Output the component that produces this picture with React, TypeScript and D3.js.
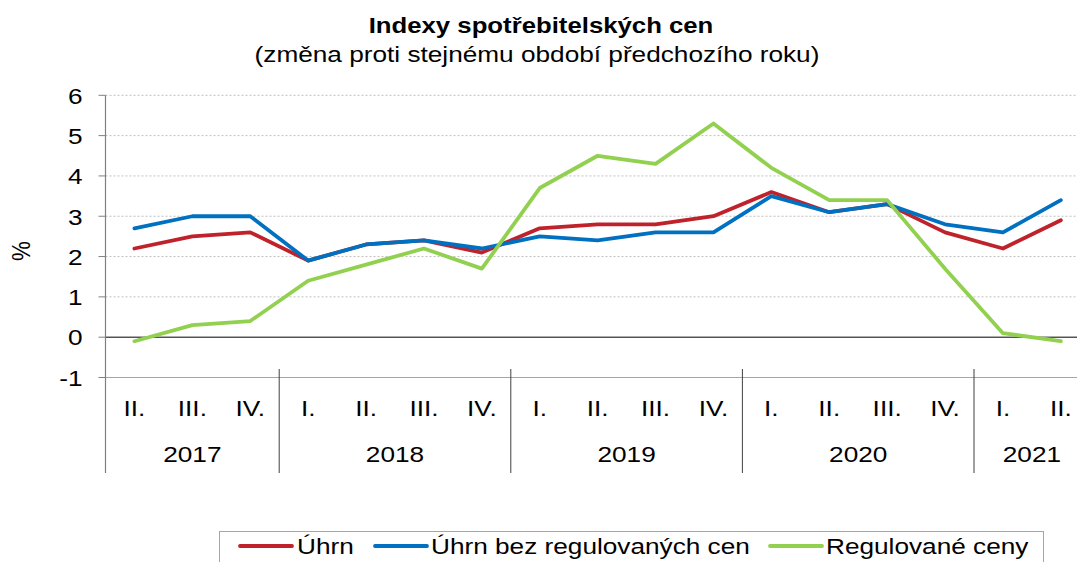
import React from "react";
import * as d3 from "d3";

const quarters = ["II.", "III.", "IV.", "I.", "II.", "III.", "IV.", "I.", "II.", "III.", "IV.", "I.", "II.", "III.", "IV.", "I.", "II."];
const yearLabels = ["2017", "2018", "2019", "2020", "2021"];
const yearCounts = [3, 4, 4, 4, 2];

const uhrn = [2.2, 2.5, 2.6, 1.9, 2.3, 2.4, 2.1, 2.7, 2.8, 2.8, 3.0, 3.6, 3.1, 3.3, 2.6, 2.2, 2.9];
const uhrnBezReg = [2.7, 3.0, 3.0, 1.9, 2.3, 2.4, 2.2, 2.5, 2.4, 2.6, 2.6, 3.5, 3.1, 3.3, 2.8, 2.6, 3.4];
const regulovane = [-0.1, 0.3, 0.4, 1.4, 1.8, 2.2, 1.7, 3.7, 4.5, 4.3, 5.3, 4.2, 3.4, 3.4, 1.7, 0.1, -0.1];

const yTicks = [-1, 0, 1, 2, 3, 4, 5, 6];

const seriesNames = ["Úhrn", "Úhrn bez regulovaných cen", "Regulované ceny"];
const seriesColors = ["#C0222B", "#0070C0", "#92D050"];

const FONT = "'Liberation Sans', Arial, sans-serif";
const SX = 1.17;
const FS = 22.4;

function T(props: any) {
  const { x, y, anchor = "start", size = FS, weight = "normal", children, rotate = 0 } = props;
  const tr = rotate
    ? `translate(${x},${y}) rotate(${rotate}) scale(1,${SX})`
    : `translate(${x},${y}) scale(${SX},1)`;
  return (
    <text transform={tr} textAnchor={anchor} fontSize={size} fontWeight={weight} fontFamily={FONT} fill="#000">
      {children}
    </text>
  );
}

export default function App() {
  const W = 1077, H = 562;
  const left = 105.5;
  const bw = 57.9;
  const idx = quarters.map((_, i) => i);
  const x = d3.scaleBand<number>().domain(idx).range([left, left + bw * quarters.length]).paddingInner(0).paddingOuter(0);
  const cx = (i: number) => (x(i) as number) + x.bandwidth() / 2;
  const y = d3.scaleLinear().domain([-1, 6]).range([377.5, 95.3]);

  const line = d3.line<number>().x((_, i) => cx(i)).y((d) => y(d));
  const series = [uhrn, uhrnBezReg, regulovane];

  const bounds: number[] = [];
  let acc = 0;
  const yearCenters: number[] = [];
  yearCounts.forEach((c) => {
    const start = x(acc) as number;
    acc += c;
    const end = acc < quarters.length ? (x(acc) as number) : left + bw * quarters.length;
    yearCenters.push((start + end) / 2);
    if (acc < quarters.length) bounds.push(end);
  });

  const rightEdge = left + bw * quarters.length;
  const legendItems = [
    { lx: 240, tx: 297 },
    { lx: 375, tx: 431 },
    { lx: 770, tx: 826 },
  ];

  return (
    <svg width={W} height={H} style={{ position: "absolute", left: 0, top: 0, background: "#fff" }}>
      <rect x={0} y={0} width={W} height={H} fill="#fff" />
      <T x={541} y={33} anchor="middle" size={22} weight="bold">Indexy spotřebitelských cen</T>
      <T x={537} y={62} anchor="middle">(změna proti stejnému období předchozího roku)</T>

      {yTicks.filter((t) => t > 0).map((t) => (
        <line key={t} x1={left} x2={rightEdge} y1={y(t)} y2={y(t)} stroke="#BFBFBF" strokeWidth={1} strokeDasharray="2,2" />
      ))}
      <line x1={left} x2={rightEdge} y1={y(-1)} y2={y(-1)} stroke="#A6A6A6" strokeWidth={1.2} />
      <line x1={left} x2={rightEdge} y1={y(0)} y2={y(0)} stroke="#000" strokeWidth={1} />
      <line x1={left} x2={left} y1={y(6)} y2={473} stroke="#808080" strokeWidth={1.2} />
      {yTicks.map((t) => (
        <g key={t}>
          <line x1={left - 7} x2={left} y1={y(t)} y2={y(t)} stroke="#808080" strokeWidth={1} />
          <T x={82.5} y={y(t) + 8.3} anchor="end">{String(t)}</T>
        </g>
      ))}
      <T x={30} y={251} anchor="middle" rotate={-90}>%</T>

      {bounds.map((b, i) => (
        <line key={i} x1={b} x2={b} y1={369} y2={473} stroke="#404040" strokeWidth={1} />
      ))}
      {quarters.map((q, i) => (
        <T key={i} x={cx(i)} y={416} anchor="middle">{q}</T>
      ))}
      {yearLabels.map((yl, i) => (
        <T key={yl} x={yearCenters[i]} y={462} anchor="middle">{yl}</T>
      ))}

      {series.map((s, k) => (
        <path key={k} d={line(s) as string} fill="none" stroke={seriesColors[k]} strokeWidth={3.8} strokeLinejoin="round" strokeLinecap="round" />
      ))}

      <rect x={219.5} y={531.5} width={824} height={45} fill="#fff" stroke="#A6A6A6" strokeWidth={1} />
      {legendItems.map((it, k) => (
        <g key={k}>
          <line x1={it.lx} x2={it.lx + 52} y1={546} y2={546} stroke={seriesColors[k]} strokeWidth={3.8} strokeLinecap="round" />
          <T x={it.tx} y={554}>{seriesNames[k]}</T>
        </g>
      ))}
    </svg>
  );
}
